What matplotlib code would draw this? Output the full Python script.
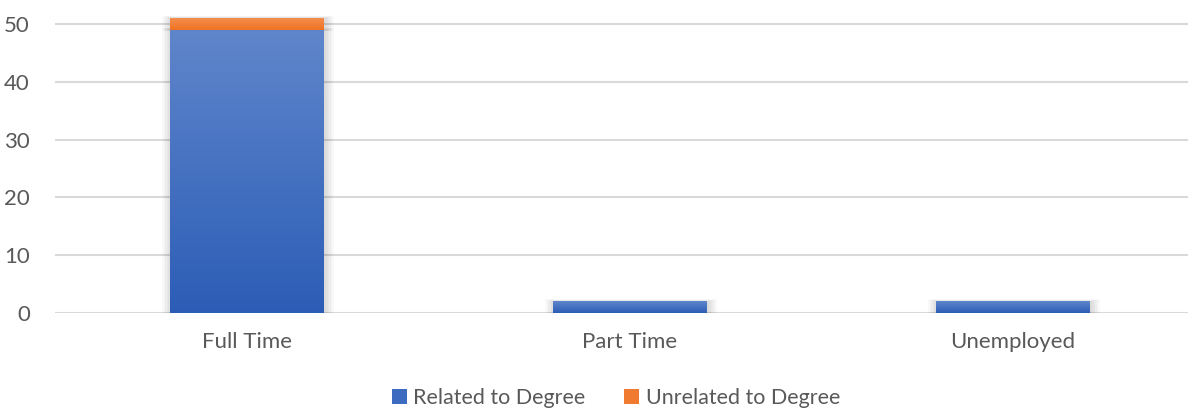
import numpy as np
import matplotlib.pyplot as plt
from matplotlib.patches import Rectangle
from matplotlib.colors import LinearSegmentedColormap

# employment status of graduates
categories = ['Full Time', 'Part Time', 'Unemployed']
related = [49, 2, 2]
unrelated = [2, 0, 0]
series_names = ['Related to Degree', 'Unrelated to Degree']

plt.rcParams['font.family'] = ['Lato', 'DejaVu Sans']

blue_cmap = LinearSegmentedColormap.from_list('blue', ['#2c5db6', '#5f86cb'])
orange_cmap = LinearSegmentedColormap.from_list('orange', ['#ef7322', '#f48d4e'])

fig = plt.figure(figsize=(11.88, 4.08), dpi=100)
ax = fig.add_axes([55 / 1188, (408 - 313) / 408, 1149 / 1188, 52 * 5.78 / 408])

x = np.arange(len(categories))
width = 0.40
ymax = 52


def gradient_bar(ax, xc, bottom, height, cmap, lo=0.0, hi=1.0):
    if height <= 0:
        return
    left = xc - width / 2
    # soft shadow
    for i in range(6):
        pad_x = 0.004 * (i + 1)
        pad_y = 0.09 * (i + 1)
        ax.add_patch(Rectangle((left - pad_x + 0.004, bottom - pad_y * 0.5),
                               width + 2 * pad_x, height + pad_y * 1.2,
                               facecolor='black', edgecolor='none', alpha=0.025, zorder=2))
    # vertical gradient fill, darker at bottom
    grad = np.linspace(lo, hi, 100).reshape(-1, 1)
    ax.imshow(grad, cmap=cmap, vmin=0, vmax=1, origin='lower', aspect='auto',
              extent=(left, left + width, bottom, bottom + height), zorder=3)


for i in range(len(categories)):
    gradient_bar(ax, x[i], 0, related[i], blue_cmap)
    gradient_bar(ax, x[i], related[i], unrelated[i], orange_cmap)

ax.set_xlim(-0.5, len(categories) - 0.5)
ax.set_ylim(0, ymax)
ax.set_yticks(range(0, 51, 10))
ax.yaxis.grid(True, color='#d9d9d9', linewidth=1.5, zorder=0)
ax.set_axisbelow(True)
ax.set_xticks(x)
ax.set_xticklabels(categories)
ax.tick_params(axis='both', length=0, labelsize=16, labelcolor='#595959')
ax.tick_params(axis='x', pad=14)
ax.tick_params(axis='y', pad=18)
for s in ax.spines.values():
    s.set_visible(False)

handles = [Rectangle((0, 0), 1, 1, facecolor='#3d6bc0'),
           Rectangle((0, 0), 1, 1, facecolor='#f07b30')]
fig.legend(handles, series_names, loc='center', bbox_to_anchor=(616 / 1188, 1 - 398 / 408),
           ncol=2, frameon=False, fontsize=15.5, labelcolor='#595959',
           handlelength=0.7, handleheight=0.7, handletextpad=0.3, columnspacing=1.8)

fig.savefig('out.png', dpi=100)
